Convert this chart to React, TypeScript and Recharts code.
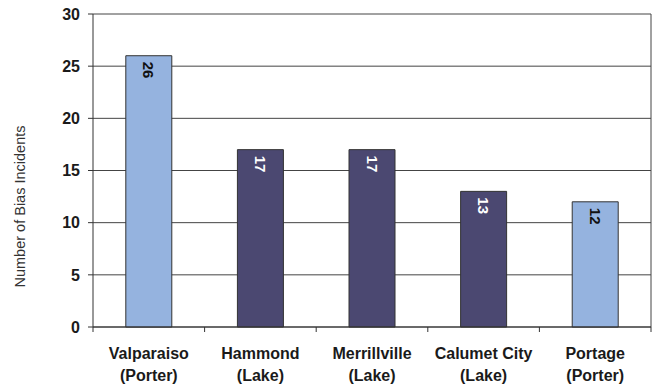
import React from "react";
import { BarChart, Bar, XAxis, YAxis, CartesianGrid, Cell, LabelList } from "recharts";

const cities = ["Valparaiso", "Hammond", "Merrillville", "Calumet City", "Portage"];
const counties = ["Porter", "Lake", "Lake", "Lake", "Porter"];
const incidents = [26, 17, 17, 13, 12];
const yTicks = [0, 5, 10, 15, 20, 25, 30];
const yLabel = "Number of Bias Incidents";

const countyColors: Record<string, string> = { Porter: "#95b3df", Lake: "#4b4871" };
const labelColors: Record<string, string> = { Porter: "#111111", Lake: "#ffffff" };

const data = cities.map((c, i) => ({ city: c, county: counties[i], value: incidents[i] }));

const FONT = "'Liberation Sans', Arial, sans-serif";

const XTick = (props: any) => {
  const { x, y, payload, index, visibleTicksCount } = props;
  const off = payload.offset || 0;
  const county = counties[index] ?? "";
  const last = index === (visibleTicksCount ?? cities.length) - 1;
  return (
    <g>
      <line x1={x - off} x2={x - off} y1={y} y2={y + 5} stroke="#333" strokeWidth={1} />
      {last && <line x1={x + off} x2={x + off} y1={y} y2={y + 5} stroke="#333" strokeWidth={1} />}
      <text x={x} y={y + 32} textAnchor="middle" fontFamily={FONT} fontWeight="bold" fontSize={16} fill="#1a1a1a">
        {payload.value}
      </text>
      <text x={x} y={y + 54} textAnchor="middle" fontFamily={FONT} fontWeight="bold" fontSize={16} fill="#1a1a1a">
        {"(" + county + ")"}
      </text>
    </g>
  );
};

const BarLabel = (props: any) => {
  const { x, y, width, value, index } = props;
  const cx = x + width / 2;
  const ty = y + 6;
  const county = counties[index] ?? "";
  return (
    <text
      x={cx}
      y={ty}
      transform={`rotate(90, ${cx}, ${ty})`}
      textAnchor="start"
      dominantBaseline="central"
      fontFamily={FONT}
      fontWeight="bold"
      fontSize={15}
      fill={labelColors[county]}
    >
      {value}
    </text>
  );
};

const YLabel = (props: any) => {
  const vb = props.viewBox || {};
  const lx = 20;
  const ly = vb.y + vb.height / 2 + 36;
  return (
    <text
      x={lx}
      y={ly}
      transform={`rotate(-90, ${lx}, ${ly})`}
      textAnchor="middle"
      dominantBaseline="central"
      fontFamily={FONT}
      fontSize={14.5}
      fill="#333"
    >
      {yLabel}
    </text>
  );
};

export default function App() {
  return (
    <div style={{ position: "absolute", left: 0, top: 0, background: "#fff" }}>
      <BarChart
        width={657}
        height={385}
        data={data}
        margin={{ top: 14, right: 6, bottom: 8, left: 33 }}
        barCategoryGap="29.4%"
      >
        <CartesianGrid
          stroke="#444"
          strokeWidth={1}
          horizontal={true}
          vertical={true}
          verticalCoordinatesGenerator={({ offset }: any) => [offset.left + offset.width]}
        />
        <XAxis
          dataKey="city"
          tickLine={false}
          tickSize={0}
          tickMargin={0}
          height={50}
          axisLine={{ stroke: "#333", strokeWidth: 1 }}
          tick={<XTick />}
          interval={0}
        />
        <YAxis
          width={60}
          domain={[0, 30]}
          ticks={yTicks}
          tickSize={5}
          tickMargin={8}
          axisLine={{ stroke: "#333", strokeWidth: 1 }}
          tickLine={{ stroke: "#333", strokeWidth: 1 }}
          tick={{ fontFamily: FONT, fontWeight: "bold", fontSize: 16, fill: "#1a1a1a" }}
          label={<YLabel />}
        />
        <Bar dataKey="value" stroke="#333" strokeWidth={1} isAnimationActive={false}>
          {data.map((d, i) => (
            <Cell key={i} fill={countyColors[d.county]} />
          ))}
          <LabelList dataKey="value" content={<BarLabel />} />
        </Bar>
      </BarChart>
    </div>
  );
}
